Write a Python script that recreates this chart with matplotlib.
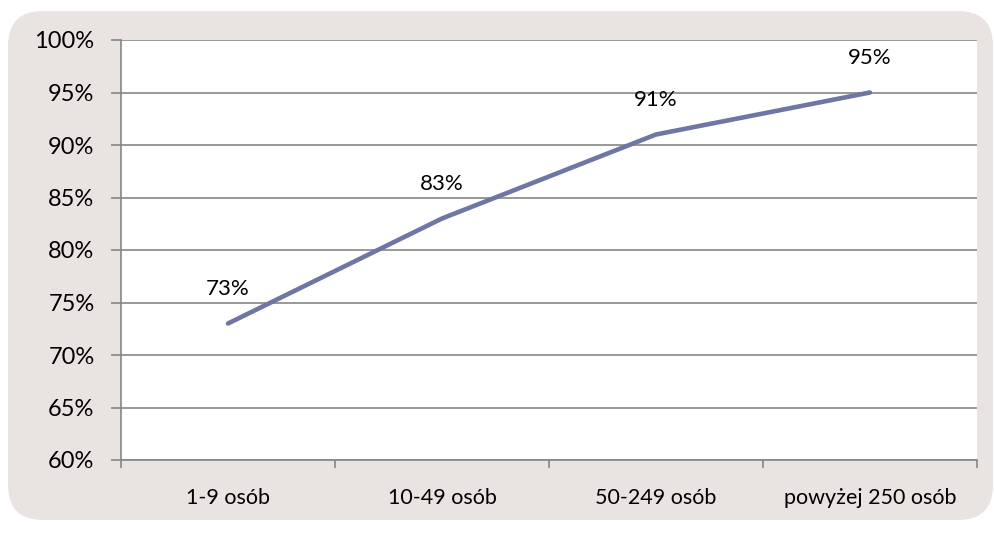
import matplotlib
matplotlib.use("Agg")
import matplotlib.pyplot as plt
from matplotlib.patches import FancyBboxPatch
from matplotlib.ticker import FixedLocator, FuncFormatter

categories = ["1-9 osób", "10-49 osób", "50-249 osób", "powyżej 250 osób"]
values = [73, 83, 91, 95]
yticks = [60, 65, 70, 75, 80, 85, 90, 95, 100]

plt.rcParams['font.family'] = ['Lato', 'DejaVu Sans']

fig = plt.figure(figsize=(9.94, 5.33), dpi=100)
fig.patch.set_facecolor("white")
bg = FancyBboxPatch((8/994, 13/533), (993-8)/994, (520-11)/533,
                    boxstyle="round,pad=0,rounding_size=0.035",
                    transform=fig.transFigure, facecolor="#E9E4E1",
                    edgecolor="none", zorder=-5, mutation_aspect=994/533)
fig.patches.append(bg)

ax = fig.add_axes([121/994, 1-460/533, (977-121)/994, (460-40)/533])
ax.set_zorder(1)
ax.set_facecolor("white")
x = list(range(len(categories)))
ax.plot(x, values, color="#6F76A3", lw=3.3, solid_capstyle="round", zorder=3)
for xi, v in zip(x, values):
    ax.annotate(f"{v}%", (xi, v), xytext=(0, 25), textcoords="offset points",
                ha="center", va="center", fontsize=16, color="black")

ax.set_xlim(-0.5, len(categories) - 0.5)
ax.set_ylim(60, 100)
ax.yaxis.set_major_locator(FixedLocator(yticks))
ax.yaxis.set_major_formatter(FuncFormatter(lambda v, p: f"{int(v)}%"))
ax.grid(axis="y", color="#868686", lw=1.2)
ax.set_axisbelow(True)
ax.set_xticks([i - 0.5 for i in range(len(categories) + 1)])
ax.set_xticklabels([])
ax.set_xticks(x, minor=True)
ax.set_xticklabels(categories, minor=True)
ax.tick_params(axis="x", which="minor", length=0, pad=20, labelsize=15.5)
ax.tick_params(axis="x", which="major", length=6, width=1.2, color="#868686", direction="out")
ax.tick_params(axis="y", length=7, width=1.2, color="#868686", labelsize=17, pad=12)
for s in ["top", "right"]:
    ax.spines[s].set_visible(False)
for s in ["left", "bottom"]:
    ax.spines[s].set_color("#868686")
    ax.spines[s].set_linewidth(1.2)

fig.savefig("out.png", dpi=100)
